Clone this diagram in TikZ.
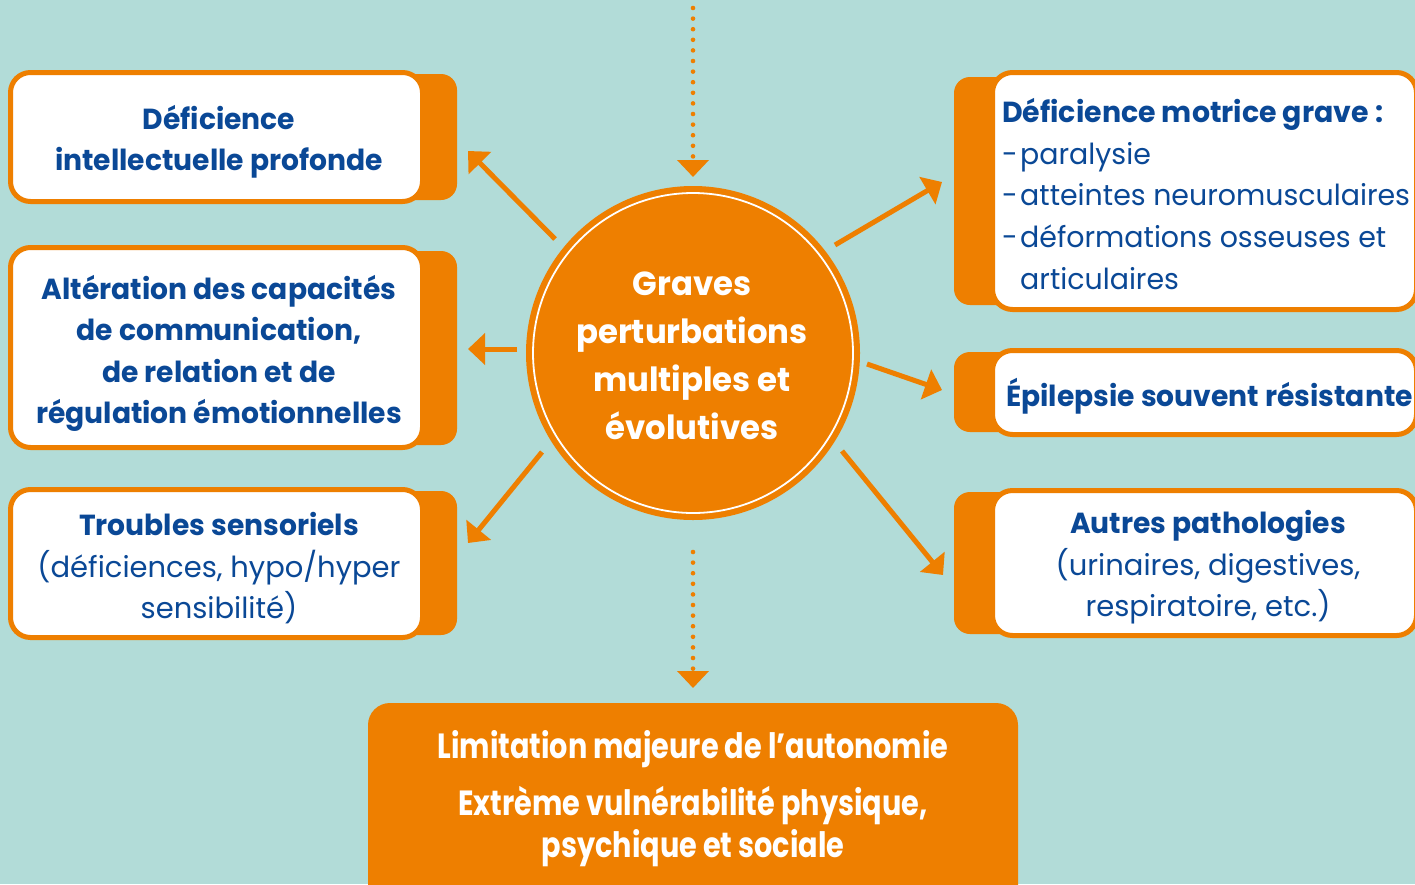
\documentclass[tikz,border=0pt]{standalone}
\usepackage{fontspec}
\setmainfont{Poppins}[BoldFeatures={FakeStretch=0.972}]
\newfontfamily\condf{Poppins}[FakeStretch=0.82]
\newfontfamily\rfont{Poppins}[FakeStretch=0.98]
\usetikzlibrary{arrows.meta}
\definecolor{bg}{HTML}{B2DCD8}
\definecolor{org}{HTML}{EE7F00}
\definecolor{dblue}{HTML}{0A4896}
\newcommand{\dashitem}{\makebox[18pt][l]{-}}
\begin{document}
\begin{tikzpicture}[x=1pt,y=-1pt,
  wbox/.style={draw=org, line width=5pt, fill=white, rounded corners=20pt, inner sep=0pt},
  tabbox/.style={fill=org, rounded corners=16pt},
  btext/.style={text=dblue, font=\fontsize{29}{41.5}\selectfont\bfseries, align=center, inner sep=0pt},
  rtext/.style={text=dblue, font=\fontsize{29}{41.5}\selectfont, align=center, inner sep=0pt},
  arr/.style={draw=org, line width=5pt, -{Triangle[length=17pt,width=31pt]}},
  dotarr/.style={draw=org, line width=4.6pt, line cap=round, dash pattern=on 0pt off 10.6pt, -{Triangle[length=17pt,width=31pt]}},
]
\useasboundingbox (0,0) rectangle (1415,884);
\fill[bg] (0,0) rectangle (1415,884);

% left boxes
\fill[tabbox] (300,74) rectangle (457,200);
\node[wbox, minimum width=412pt, minimum height=129pt] (L1) at (216.5,137) {};
\node[btext] (L1t) at (219,142) {Déficience\\intellectuelle profonde};

\fill[tabbox] (300,251) rectangle (457,445);
\node[wbox, minimum width=412pt, minimum height=200pt] (L2) at (216.5,347.5) {};
\node[btext] (L2t) at (219,353.5) {Altération des capacités\\de communication,\\de relation et de\\régulation émotionnelles};

\fill[tabbox] (300,491) rectangle (457,635);
\node[wbox, minimum width=412pt, minimum height=148pt] (L3) at (216.5,563.5) {};
\node[rtext] (L3t) at (219,568.5) {\textbf{Troubles sensoriels}\\(déficiences, hypo/hyper\\sensibilité)};

% right boxes
\fill[tabbox] (954,77) rectangle (1100,305);
\node[wbox, minimum width=424pt, minimum height=237pt] (R1) at (1204.5,191) {};
\node[anchor=west, text=dblue, align=left, inner sep=0pt, font=\rfont\fontsize{29}{41.7}\selectfont] (R1t) at (1002,194) {\textbf{Déficience motrice grave :}\\\dashitem paralysie\\\dashitem atteintes neuromusculaires\\\dashitem déformations osseuses et\\\hspace*{18pt}articulaires};

\fill[tabbox] (954,352) rectangle (1100,432);
\node[wbox, minimum width=424pt, minimum height=84pt] (R2) at (1204.5,392.5) {};
\node[btext, anchor=west] (R2t) at (1006,396) {Épilepsie souvent résistante};

\fill[tabbox] (954,492) rectangle (1100,634);
\node[wbox, minimum width=424pt, minimum height=145pt] (R3) at (1204.5,563) {};
\node[rtext] (R3t) at (1208,567.5) {\textbf{Autres pathologies}\\(urinaires, digestives,\\respiratoire, etc.)};

% centre
\node[circle, fill=org, minimum size=334pt, inner sep=0pt] (C) at (693,353) {};
\draw[white, line width=1.8pt] (C.center) circle[radius=160pt];
\node[text=white, align=center, inner sep=0pt, font=\fontsize{33.3}{48}\selectfont\bfseries] (Ct) at (692,356) {Graves\\perturbations\\multiples et\\évolutives};

% bottom
\node[fill=org, rounded corners=22pt, minimum width=650pt, minimum height=230pt, inner sep=0pt] (B) at (693,818) {};
\node[text=white, align=center, inner sep=0pt, font=\condf\fontsize{35}{42}\selectfont\bfseries] (Bt) at (693,798.5) {Limitation majeure de l’autonomie\\[15pt]Extrème vulnérabilité physique,\\psychique et sociale};

% connectors
\coordinate (a1s) at (555,239); \coordinate (a1e) at (468,151);
\coordinate (a2s) at (517,349); \coordinate (a2e) at (468,349);
\coordinate (a3s) at (542,452); \coordinate (a3e) at (468,543);
\coordinate (a4s) at (835,245); \coordinate (a4e) at (942,182);
\coordinate (a5s) at (867,364); \coordinate (a5e) at (942,390);
\coordinate (a6s) at (842,451); \coordinate (a6e) at (943,575);
\coordinate (d1s) at (693,8);   \coordinate (d1e) at (693,177);
\coordinate (d2s) at (693,552); \coordinate (d2e) at (693,688);
\draw[arr] (a1s) -- (a1e);
\draw[arr] (a2s) -- (a2e);
\draw[arr] (a3s) -- (a3e);
\draw[arr] (a4s) -- (a4e);
\draw[arr] (a5s) -- (a5e);
\draw[arr] (a6s) -- (a6e);
\draw[dotarr] (d1s) -- (d1e);
\draw[dotarr] (d2s) -- (d2e);
\end{tikzpicture}
\end{document}
